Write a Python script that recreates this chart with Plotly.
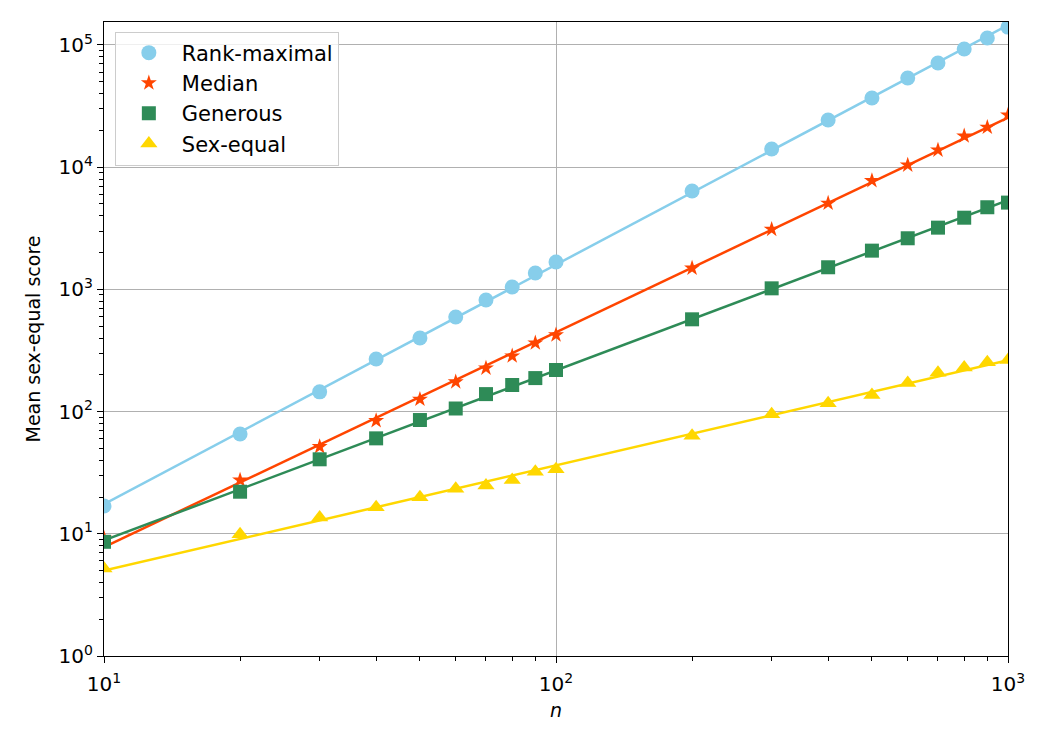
import numpy as np
import plotly.graph_objects as go

n_values = [10, 20, 30, 40, 50, 60, 70, 80, 90, 100, 200, 300, 400, 500, 600, 700, 800, 900, 1000]

rank_maximal = [16.9, 65.6, 145, 269, 400, 594, 819, 1047, 1361, 1675,
                6390, 14100, 24300, 36800, 53700, 71300, 92800, 114000, 140000]
median = [9.2, 27.5, 51.6, 84.2, 126, 175, 227, 285, 364, 424,
          1490, 3100, 5070, 7760, 10400, 13800, 18000, 21200, 26700]
generous = [8.6, 22.1, 40.7, 60.4, 85.3, 106, 139, 165, 188, 219,
            569, 1020, 1517, 2075, 2620, 3200, 3860, 4700, 5130]
sex_equal = [5.2, 9.9, 13.6, 16.5, 19.9, 23.4, 24.8, 27.5, 32.2, 33.7,
             63.5, 95, 117, 137, 171, 208, 230, 253, 264]

series = [
    ("Rank-maximal", rank_maximal, "#87CEEB", "circle", 15),
    ("Median", median, "#FF4500", "star", 12),
    ("Generous", generous, "#2E8B57", "square", 14),
    ("Sex-equal", sex_equal, "#FFD700", "triangle-up", 15),
]

x_major = [10, 100, 1000]
x_major_text = ["10<sup>1</sup>", "10<sup>2</sup>", "10<sup>3</sup>"]
y_major = [1, 10, 100, 1000, 10000, 100000]
y_major_text = ["10<sup>0</sup>", "10<sup>1</sup>", "10<sup>2</sup>",
                "10<sup>3</sup>", "10<sup>4</sup>", "10<sup>5</sup>"]

x_minor = [m * 10 ** k for k in range(1, 3) for m in range(2, 10)]
y_minor = [m * 10 ** k for k in range(0, 6) for m in range(2, 10)]

fig = go.Figure()
logn = np.log10(n_values)
for name, vals, color, sym, size in series:
    slope, icpt = np.polyfit(logn, np.log10(vals), 1)
    fit = 10 ** (icpt + slope * logn)
    fig.add_trace(go.Scatter(x=n_values, y=fit, mode="lines",
                             line=dict(color=color, width=2.5),
                             showlegend=False, hoverinfo="skip"))
for name, vals, color, sym, size in series:
    fig.add_trace(go.Scatter(x=n_values, y=vals, mode="markers", name=name,
                             marker=dict(color=color, symbol=sym, size=size,
                                         line=dict(width=0))))

font = "DejaVu Sans, Verdana, sans-serif"
axis_common = dict(
    type="log", showline=True, mirror=True, linecolor="black", linewidth=1.3,
    showgrid=True, gridcolor="#b0b0b0", gridwidth=1.2, zeroline=False,
    ticks="outside", ticklen=6, tickwidth=1.2, tickcolor="black",
    tickfont=dict(family=font, size=20, color="black"),
)

fig.update_xaxes(
    range=[1, 3], tickmode="array", tickvals=x_major, ticktext=x_major_text,
    minor=dict(tickmode="array", tickvals=x_minor, ticks="outside", ticklen=3.5,
               tickwidth=1, tickcolor="black", showgrid=False),
    ticklabelstandoff=4,
    title=dict(text="<i>n</i>", font=dict(family=font, size=19, color="black"), standoff=8),
    **axis_common,
)
fig.update_yaxes(
    range=[0, 5.188], tickmode="array", tickvals=y_major, ticktext=y_major_text,
    minor=dict(tickmode="array", tickvals=y_minor, ticks="outside", ticklen=3.5,
               tickwidth=1, tickcolor="black", showgrid=False),
    title=dict(text="Mean sex-equal score", font=dict(family=font, size=19, color="black"), standoff=12),
    **axis_common,
)

fig.update_layout(
    width=1050, height=750,
    margin=dict(l=104, r=42, t=22, b=94),
    paper_bgcolor="white", plot_bgcolor="white",
    font=dict(family=font, color="black"),
    legend=dict(x=0.012, y=0.985, xanchor="left", yanchor="top",
                bgcolor="rgba(255,255,255,0.8)", bordercolor="#cccccc", borderwidth=1,
                font=dict(family=font, size=21, color="black"),
                itemsizing="trace", itemwidth=56),
)

fig.write_html("out.html")
